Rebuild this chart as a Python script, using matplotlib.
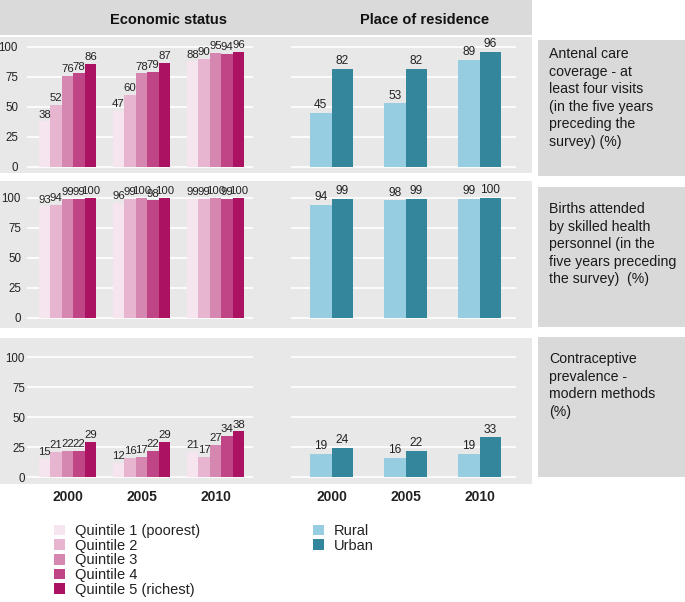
import matplotlib
matplotlib.use("Agg")
import matplotlib.pyplot as plt
from matplotlib.patches import Rectangle, Patch

plt.rcParams['font.family'] = ['Liberation Sans', 'DejaVu Sans']

# data
years = ['2000', '2005', '2010']
quintiles = ['Quintile 1 (poorest)', 'Quintile 2', 'Quintile 3', 'Quintile 4', 'Quintile 5 (richest)']
residence = ['Rural', 'Urban']

anc_quint = [[38, 47, 88], [52, 60, 90], [76, 78, 95], [78, 79, 94], [86, 87, 96]]
anc_res = [[45, 53, 89], [82, 82, 96]]
sba_quint = [[93, 96, 99], [94, 99, 99], [99, 100, 100], [99, 98, 99], [100, 100, 100]]
sba_res = [[94, 98, 99], [99, 99, 100]]
cpr_quint = [[15, 12, 21], [21, 16, 17], [22, 17, 27], [22, 22, 34], [29, 29, 38]]
cpr_res = [[19, 16, 19], [24, 22, 33]]

row_titles = ['Antenal care\ncoverage - at\nleast four visits\n(in the five years\npreceding the\nsurvey) (%)',
              'Births attended\nby skilled health\npersonnel (in the\nfive years preceding\nthe survey)  (%)',
              'Contraceptive\nprevalence -\nmodern methods\n(%)']
yticks = [0, 25, 50, 75, 100]

q_colors = ['#f6e4ee', '#e8b5d1', '#d687b1', '#bf4586', '#ab1262']
r_colors = ['#96cde0', '#33869c']

W, H = 685, 602
fig = plt.figure(figsize=(W / 100, H / 100), dpi=100)


def box(x0, y0, x1, y1):
    # pixel box (top-left origin) -> figure fraction rect
    return [x0 / W, 1 - y1 / H, (x1 - x0) / W, (y1 - y0) / H]


def frect(x0, y0, x1, y1, color):
    l, b, w, h = box(x0, y0, x1, y1)
    fig.patches.append(Rectangle((l, b), w, h, transform=fig.transFigure,
                                 facecolor=color, edgecolor='none', zorder=-10))


# header band
frect(0, 0, 532, 35, '#dadada')
fig.text(169 / W, 1 - 20 / H, 'Economic status', ha='center', va='center',
         fontsize=10.5, fontweight='bold', color='#111111')
fig.text(425 / W, 1 - 20 / H, 'Place of residence', ha='center', va='center',
         fontsize=10.5, fontweight='bold', color='#111111')

# rows: panel top, panel bottom, y px of 0, y px of 100, side box top/bottom, tick x, title y
rows = [(37, 173, 167, 47, 40, 176, 18, 55),
        (181, 328, 318, 198, 187, 327, 21, 210),
        (338, 484, 477, 357, 337, 477, 25, 360)]
data = [(anc_quint, anc_res), (sba_quint, sba_res), (cpr_quint, cpr_res)]

for i, (top, bot, y0, y100, st, sb, tx, ty) in enumerate(rows):
    quint, res = data[i]
    frect(0, top, 532, bot, '#e8e8e8')
    frect(538, st, 685, sb, '#d9d9d9')
    fig.text(549 / W, 1 - (ty - 8) / H, row_titles[i], ha='left', va='top',
             fontsize=10.2, linespacing=1.32, color='#1a1a1a')

    ppu = (y0 - y100) / 100.0
    ylo = -(bot - y0) / ppu
    yhi = 100 + (y100 - top) / ppu

    # left: economic status
    axl = fig.add_axes(box(0, top, 266, bot))
    c0 = 67.5
    axl.set_xlim((0 - c0) / 74, (266 - c0) / 74)
    axl.set_ylim(ylo, yhi)
    axl.hlines(yticks, (27 - c0) / 74, (253 - c0) / 74, color='white', lw=1.2, zorder=1)
    bw = 0.155
    for k in range(5):
        xs = [g + (k - 2) * bw for g in range(3)]
        axl.bar(xs, quint[k], width=bw, color=q_colors[k], zorder=2)
        for x, v in zip(xs, quint[k]):
            axl.text(x, v + 1.5, str(v), ha='center', va='bottom', fontsize=8.2,
                     color='#222222', zorder=3)
    axl.set_yticks(yticks)
    axl.set_yticklabels([str(t) for t in yticks])
    axl.tick_params(axis='y', length=0, pad=-tx * 0.72, labelsize=8.3, labelcolor='#222222')
    for lab in axl.get_yticklabels():
        lab.set_horizontalalignment('right')
    axl.set_xticks([])
    axl.patch.set_visible(False)
    for s in axl.spines.values():
        s.set_visible(False)

    # right: place of residence
    axr = fig.add_axes(box(268, top, 532, bot))
    c0 = 331.5
    axr.set_xlim((268 - c0) / 74, (532 - c0) / 74)
    axr.set_ylim(ylo, yhi)
    axr.hlines(yticks, (291 - c0) / 74, (516 - c0) / 74, color='white', lw=1.2, zorder=1)
    bw = 0.29
    for k in range(2):
        xs = [g + (k - 0.5) * bw for g in range(3)]
        axr.bar(xs, res[k], width=bw, color=r_colors[k], zorder=2)
        for x, v in zip(xs, res[k]):
            axr.text(x, v + 1.5, str(v), ha='center', va='bottom', fontsize=8.6,
                     color='#222222', zorder=3)
    axr.set_xticks([])
    axr.set_yticks([])
    axr.patch.set_visible(False)
    for s in axr.spines.values():
        s.set_visible(False)

    if i == 2:
        # year labels below the bottom row (y ~ 497 px)
        yr_y = 1 - 497 / H
        for ax in (axl, axr):
            for g, yr in enumerate(years):
                ax.annotate(yr, xy=(g, 0), xycoords=('data', 'figure fraction'),
                            xytext=(g, yr_y), textcoords=('data', 'figure fraction'),
                            ha='center', va='center', fontsize=10,
                            fontweight='bold', color='#222222', annotation_clip=False)

# legends
q_handles = [Patch(facecolor=c, edgecolor='none') for c in q_colors]
r_handles = [Patch(facecolor=c, edgecolor='none') for c in r_colors]
leg_kw = dict(frameon=False, fontsize=10.5, handlelength=0.75, handleheight=0.75,
              handletextpad=0.7, labelspacing=0.05, borderpad=0, borderaxespad=0,
              loc='upper left', labelcolor='#222222')
fig.legend(q_handles, quintiles, bbox_to_anchor=(54 / W, 1 - 524 / H), **leg_kw)
fig.legend(r_handles, residence, bbox_to_anchor=(313 / W, 1 - 524 / H), **leg_kw)

fig.savefig('out.png', dpi=100)
